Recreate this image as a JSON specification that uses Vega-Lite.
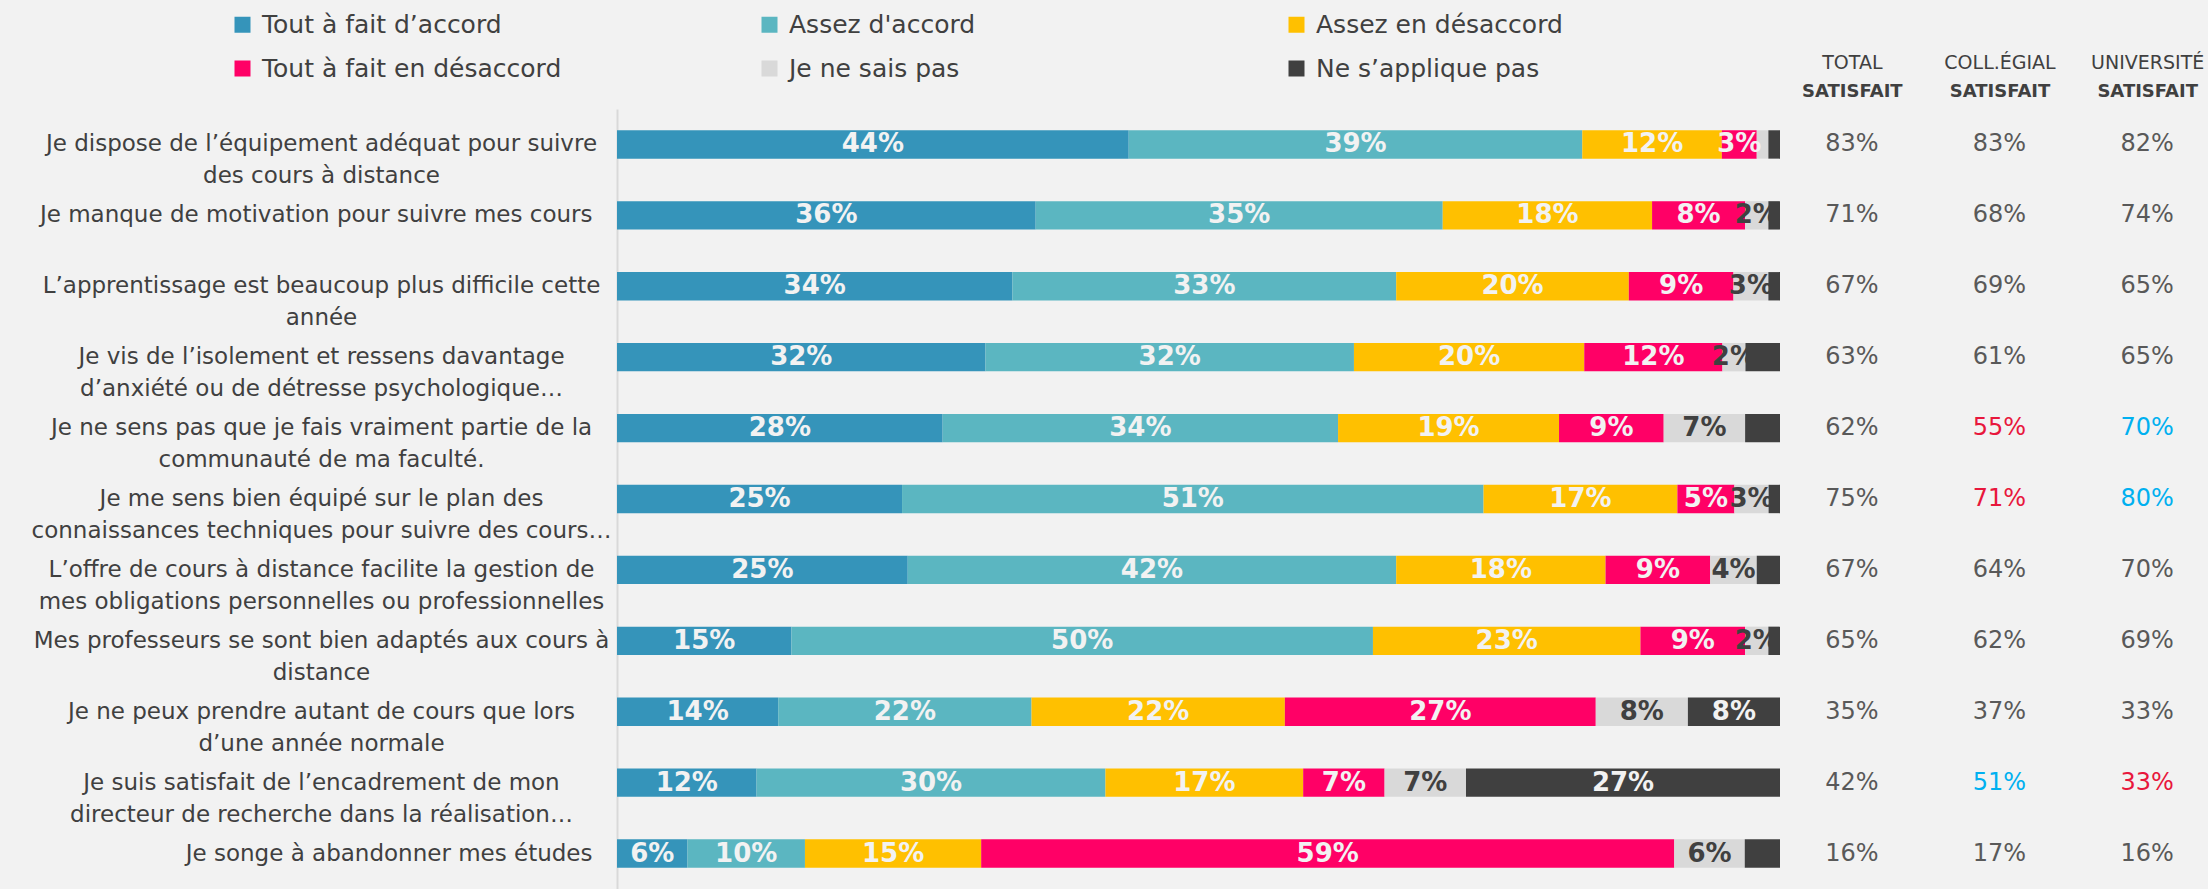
{
  "$schema": "https://vega.github.io/schema/vega-lite/v6.json",
  "background": "#F2F2F2",
  "autosize": "none",
  "width": 1163,
  "height": 780,
  "padding": {"left": 617, "top": 109, "right": 428, "bottom": 0},
  "config": {"view": {"stroke": null}, "font": "DejaVu Sans"},
  "datasets": {
    "bars": [
      {"q": "Je dispose de l’équipement adéquat pour suivre\ndes cours à distance", "cat": "Tout à fait d’accord", "o": 1, "v": 0.44},
      {"q": "Je dispose de l’équipement adéquat pour suivre\ndes cours à distance", "cat": "Assez d'accord", "o": 2, "v": 0.39},
      {"q": "Je dispose de l’équipement adéquat pour suivre\ndes cours à distance", "cat": "Assez en désaccord", "o": 3, "v": 0.12},
      {"q": "Je dispose de l’équipement adéquat pour suivre\ndes cours à distance", "cat": "Tout à fait en désaccord", "o": 4, "v": 0.03},
      {"q": "Je dispose de l’équipement adéquat pour suivre\ndes cours à distance", "cat": "Je ne sais pas", "o": 5, "v": 0.01},
      {"q": "Je dispose de l’équipement adéquat pour suivre\ndes cours à distance", "cat": "Ne s’applique pas", "o": 6, "v": 0.01},
      {"q": "Je manque de motivation pour suivre mes cours", "cat": "Tout à fait d’accord", "o": 1, "v": 0.36},
      {"q": "Je manque de motivation pour suivre mes cours", "cat": "Assez d'accord", "o": 2, "v": 0.35},
      {"q": "Je manque de motivation pour suivre mes cours", "cat": "Assez en désaccord", "o": 3, "v": 0.18},
      {"q": "Je manque de motivation pour suivre mes cours", "cat": "Tout à fait en désaccord", "o": 4, "v": 0.08},
      {"q": "Je manque de motivation pour suivre mes cours", "cat": "Je ne sais pas", "o": 5, "v": 0.02},
      {"q": "Je manque de motivation pour suivre mes cours", "cat": "Ne s’applique pas", "o": 6, "v": 0.01},
      {"q": "L’apprentissage est beaucoup plus difficile cette\nannée", "cat": "Tout à fait d’accord", "o": 1, "v": 0.34},
      {"q": "L’apprentissage est beaucoup plus difficile cette\nannée", "cat": "Assez d'accord", "o": 2, "v": 0.33},
      {"q": "L’apprentissage est beaucoup plus difficile cette\nannée", "cat": "Assez en désaccord", "o": 3, "v": 0.20},
      {"q": "L’apprentissage est beaucoup plus difficile cette\nannée", "cat": "Tout à fait en désaccord", "o": 4, "v": 0.09},
      {"q": "L’apprentissage est beaucoup plus difficile cette\nannée", "cat": "Je ne sais pas", "o": 5, "v": 0.03},
      {"q": "L’apprentissage est beaucoup plus difficile cette\nannée", "cat": "Ne s’applique pas", "o": 6, "v": 0.01},
      {"q": "Je vis de l’isolement et ressens davantage\nd’anxiété ou de détresse psychologique…", "cat": "Tout à fait d’accord", "o": 1, "v": 0.32},
      {"q": "Je vis de l’isolement et ressens davantage\nd’anxiété ou de détresse psychologique…", "cat": "Assez d'accord", "o": 2, "v": 0.32},
      {"q": "Je vis de l’isolement et ressens davantage\nd’anxiété ou de détresse psychologique…", "cat": "Assez en désaccord", "o": 3, "v": 0.20},
      {"q": "Je vis de l’isolement et ressens davantage\nd’anxiété ou de détresse psychologique…", "cat": "Tout à fait en désaccord", "o": 4, "v": 0.12},
      {"q": "Je vis de l’isolement et ressens davantage\nd’anxiété ou de détresse psychologique…", "cat": "Je ne sais pas", "o": 5, "v": 0.02},
      {"q": "Je vis de l’isolement et ressens davantage\nd’anxiété ou de détresse psychologique…", "cat": "Ne s’applique pas", "o": 6, "v": 0.03},
      {"q": "Je ne sens pas que je fais vraiment partie de la\ncommunauté de ma faculté.", "cat": "Tout à fait d’accord", "o": 1, "v": 0.28},
      {"q": "Je ne sens pas que je fais vraiment partie de la\ncommunauté de ma faculté.", "cat": "Assez d'accord", "o": 2, "v": 0.34},
      {"q": "Je ne sens pas que je fais vraiment partie de la\ncommunauté de ma faculté.", "cat": "Assez en désaccord", "o": 3, "v": 0.19},
      {"q": "Je ne sens pas que je fais vraiment partie de la\ncommunauté de ma faculté.", "cat": "Tout à fait en désaccord", "o": 4, "v": 0.09},
      {"q": "Je ne sens pas que je fais vraiment partie de la\ncommunauté de ma faculté.", "cat": "Je ne sais pas", "o": 5, "v": 0.07},
      {"q": "Je ne sens pas que je fais vraiment partie de la\ncommunauté de ma faculté.", "cat": "Ne s’applique pas", "o": 6, "v": 0.03},
      {"q": "Je me sens bien équipé sur le plan des\nconnaissances techniques pour suivre des cours…", "cat": "Tout à fait d’accord", "o": 1, "v": 0.25},
      {"q": "Je me sens bien équipé sur le plan des\nconnaissances techniques pour suivre des cours…", "cat": "Assez d'accord", "o": 2, "v": 0.51},
      {"q": "Je me sens bien équipé sur le plan des\nconnaissances techniques pour suivre des cours…", "cat": "Assez en désaccord", "o": 3, "v": 0.17},
      {"q": "Je me sens bien équipé sur le plan des\nconnaissances techniques pour suivre des cours…", "cat": "Tout à fait en désaccord", "o": 4, "v": 0.05},
      {"q": "Je me sens bien équipé sur le plan des\nconnaissances techniques pour suivre des cours…", "cat": "Je ne sais pas", "o": 5, "v": 0.03},
      {"q": "Je me sens bien équipé sur le plan des\nconnaissances techniques pour suivre des cours…", "cat": "Ne s’applique pas", "o": 6, "v": 0.01},
      {"q": "L’offre de cours à distance facilite la gestion de\nmes obligations personnelles ou professionnelles", "cat": "Tout à fait d’accord", "o": 1, "v": 0.25},
      {"q": "L’offre de cours à distance facilite la gestion de\nmes obligations personnelles ou professionnelles", "cat": "Assez d'accord", "o": 2, "v": 0.42},
      {"q": "L’offre de cours à distance facilite la gestion de\nmes obligations personnelles ou professionnelles", "cat": "Assez en désaccord", "o": 3, "v": 0.18},
      {"q": "L’offre de cours à distance facilite la gestion de\nmes obligations personnelles ou professionnelles", "cat": "Tout à fait en désaccord", "o": 4, "v": 0.09},
      {"q": "L’offre de cours à distance facilite la gestion de\nmes obligations personnelles ou professionnelles", "cat": "Je ne sais pas", "o": 5, "v": 0.04},
      {"q": "L’offre de cours à distance facilite la gestion de\nmes obligations personnelles ou professionnelles", "cat": "Ne s’applique pas", "o": 6, "v": 0.02},
      {"q": "Mes professeurs se sont bien adaptés aux cours à\ndistance", "cat": "Tout à fait d’accord", "o": 1, "v": 0.15},
      {"q": "Mes professeurs se sont bien adaptés aux cours à\ndistance", "cat": "Assez d'accord", "o": 2, "v": 0.50},
      {"q": "Mes professeurs se sont bien adaptés aux cours à\ndistance", "cat": "Assez en désaccord", "o": 3, "v": 0.23},
      {"q": "Mes professeurs se sont bien adaptés aux cours à\ndistance", "cat": "Tout à fait en désaccord", "o": 4, "v": 0.09},
      {"q": "Mes professeurs se sont bien adaptés aux cours à\ndistance", "cat": "Je ne sais pas", "o": 5, "v": 0.02},
      {"q": "Mes professeurs se sont bien adaptés aux cours à\ndistance", "cat": "Ne s’applique pas", "o": 6, "v": 0.01},
      {"q": "Je ne peux prendre autant de cours que lors\nd’une année normale", "cat": "Tout à fait d’accord", "o": 1, "v": 0.14},
      {"q": "Je ne peux prendre autant de cours que lors\nd’une année normale", "cat": "Assez d'accord", "o": 2, "v": 0.22},
      {"q": "Je ne peux prendre autant de cours que lors\nd’une année normale", "cat": "Assez en désaccord", "o": 3, "v": 0.22},
      {"q": "Je ne peux prendre autant de cours que lors\nd’une année normale", "cat": "Tout à fait en désaccord", "o": 4, "v": 0.27},
      {"q": "Je ne peux prendre autant de cours que lors\nd’une année normale", "cat": "Je ne sais pas", "o": 5, "v": 0.08},
      {"q": "Je ne peux prendre autant de cours que lors\nd’une année normale", "cat": "Ne s’applique pas", "o": 6, "v": 0.08},
      {"q": "Je suis satisfait de l’encadrement de mon\ndirecteur de recherche dans la réalisation…", "cat": "Tout à fait d’accord", "o": 1, "v": 0.12},
      {"q": "Je suis satisfait de l’encadrement de mon\ndirecteur de recherche dans la réalisation…", "cat": "Assez d'accord", "o": 2, "v": 0.30},
      {"q": "Je suis satisfait de l’encadrement de mon\ndirecteur de recherche dans la réalisation…", "cat": "Assez en désaccord", "o": 3, "v": 0.17},
      {"q": "Je suis satisfait de l’encadrement de mon\ndirecteur de recherche dans la réalisation…", "cat": "Tout à fait en désaccord", "o": 4, "v": 0.07},
      {"q": "Je suis satisfait de l’encadrement de mon\ndirecteur de recherche dans la réalisation…", "cat": "Je ne sais pas", "o": 5, "v": 0.07},
      {"q": "Je suis satisfait de l’encadrement de mon\ndirecteur de recherche dans la réalisation…", "cat": "Ne s’applique pas", "o": 6, "v": 0.27},
      {"q": "Je songe à abandonner mes études", "cat": "Tout à fait d’accord", "o": 1, "v": 0.06},
      {"q": "Je songe à abandonner mes études", "cat": "Assez d'accord", "o": 2, "v": 0.10},
      {"q": "Je songe à abandonner mes études", "cat": "Assez en désaccord", "o": 3, "v": 0.15},
      {"q": "Je songe à abandonner mes études", "cat": "Tout à fait en désaccord", "o": 4, "v": 0.59},
      {"q": "Je songe à abandonner mes études", "cat": "Je ne sais pas", "o": 5, "v": 0.06},
      {"q": "Je songe à abandonner mes études", "cat": "Ne s’applique pas", "o": 6, "v": 0.03}
    ],
    "sat": [
      {"q": "Je dispose de l’équipement adéquat pour suivre\ndes cours à distance", "col": "TOTAL", "pct": 0.83, "flag": ""},
      {"q": "Je dispose de l’équipement adéquat pour suivre\ndes cours à distance", "col": "COLL.ÉGIAL", "pct": 0.83, "flag": ""},
      {"q": "Je dispose de l’équipement adéquat pour suivre\ndes cours à distance", "col": "UNIVERSITÉ", "pct": 0.82, "flag": ""},
      {"q": "Je manque de motivation pour suivre mes cours", "col": "TOTAL", "pct": 0.71, "flag": ""},
      {"q": "Je manque de motivation pour suivre mes cours", "col": "COLL.ÉGIAL", "pct": 0.68, "flag": ""},
      {"q": "Je manque de motivation pour suivre mes cours", "col": "UNIVERSITÉ", "pct": 0.74, "flag": ""},
      {"q": "L’apprentissage est beaucoup plus difficile cette\nannée", "col": "TOTAL", "pct": 0.67, "flag": ""},
      {"q": "L’apprentissage est beaucoup plus difficile cette\nannée", "col": "COLL.ÉGIAL", "pct": 0.69, "flag": ""},
      {"q": "L’apprentissage est beaucoup plus difficile cette\nannée", "col": "UNIVERSITÉ", "pct": 0.65, "flag": ""},
      {"q": "Je vis de l’isolement et ressens davantage\nd’anxiété ou de détresse psychologique…", "col": "TOTAL", "pct": 0.63, "flag": ""},
      {"q": "Je vis de l’isolement et ressens davantage\nd’anxiété ou de détresse psychologique…", "col": "COLL.ÉGIAL", "pct": 0.61, "flag": ""},
      {"q": "Je vis de l’isolement et ressens davantage\nd’anxiété ou de détresse psychologique…", "col": "UNIVERSITÉ", "pct": 0.65, "flag": ""},
      {"q": "Je ne sens pas que je fais vraiment partie de la\ncommunauté de ma faculté.", "col": "TOTAL", "pct": 0.62, "flag": ""},
      {"q": "Je ne sens pas que je fais vraiment partie de la\ncommunauté de ma faculté.", "col": "COLL.ÉGIAL", "pct": 0.55, "flag": "bas"},
      {"q": "Je ne sens pas que je fais vraiment partie de la\ncommunauté de ma faculté.", "col": "UNIVERSITÉ", "pct": 0.70, "flag": "haut"},
      {"q": "Je me sens bien équipé sur le plan des\nconnaissances techniques pour suivre des cours…", "col": "TOTAL", "pct": 0.75, "flag": ""},
      {"q": "Je me sens bien équipé sur le plan des\nconnaissances techniques pour suivre des cours…", "col": "COLL.ÉGIAL", "pct": 0.71, "flag": "bas"},
      {"q": "Je me sens bien équipé sur le plan des\nconnaissances techniques pour suivre des cours…", "col": "UNIVERSITÉ", "pct": 0.80, "flag": "haut"},
      {"q": "L’offre de cours à distance facilite la gestion de\nmes obligations personnelles ou professionnelles", "col": "TOTAL", "pct": 0.67, "flag": ""},
      {"q": "L’offre de cours à distance facilite la gestion de\nmes obligations personnelles ou professionnelles", "col": "COLL.ÉGIAL", "pct": 0.64, "flag": ""},
      {"q": "L’offre de cours à distance facilite la gestion de\nmes obligations personnelles ou professionnelles", "col": "UNIVERSITÉ", "pct": 0.70, "flag": ""},
      {"q": "Mes professeurs se sont bien adaptés aux cours à\ndistance", "col": "TOTAL", "pct": 0.65, "flag": ""},
      {"q": "Mes professeurs se sont bien adaptés aux cours à\ndistance", "col": "COLL.ÉGIAL", "pct": 0.62, "flag": ""},
      {"q": "Mes professeurs se sont bien adaptés aux cours à\ndistance", "col": "UNIVERSITÉ", "pct": 0.69, "flag": ""},
      {"q": "Je ne peux prendre autant de cours que lors\nd’une année normale", "col": "TOTAL", "pct": 0.35, "flag": ""},
      {"q": "Je ne peux prendre autant de cours que lors\nd’une année normale", "col": "COLL.ÉGIAL", "pct": 0.37, "flag": ""},
      {"q": "Je ne peux prendre autant de cours que lors\nd’une année normale", "col": "UNIVERSITÉ", "pct": 0.33, "flag": ""},
      {"q": "Je suis satisfait de l’encadrement de mon\ndirecteur de recherche dans la réalisation…", "col": "TOTAL", "pct": 0.42, "flag": ""},
      {"q": "Je suis satisfait de l’encadrement de mon\ndirecteur de recherche dans la réalisation…", "col": "COLL.ÉGIAL", "pct": 0.51, "flag": "haut"},
      {"q": "Je suis satisfait de l’encadrement de mon\ndirecteur de recherche dans la réalisation…", "col": "UNIVERSITÉ", "pct": 0.33, "flag": "bas"},
      {"q": "Je songe à abandonner mes études", "col": "TOTAL", "pct": 0.16, "flag": ""},
      {"q": "Je songe à abandonner mes études", "col": "COLL.ÉGIAL", "pct": 0.17, "flag": ""},
      {"q": "Je songe à abandonner mes études", "col": "UNIVERSITÉ", "pct": 0.16, "flag": ""}
    ]
  },
  "layer": [
    {
      "data": {"name": "bars"},
      "layer": [
        {
          "mark": {"type": "bar"},
          "encoding": {
            "y": {
              "field": "q", "type": "nominal", "sort": null,
              "scale": {"paddingInner": 0.6, "paddingOuter": 0.3},
              "axis": {
                "title": null, "ticks": false, "tickSize": 0,
                "domainColor": "#D9D9D9", "domainWidth": 2,
                "labelExpr": "split(datum.value, '\\n')",
                "labelAlign": {"condition": {"test": "indexof(datum.value, '\\n') < 0", "value": "right"}, "value": "center"},
                "labelPadding": {"condition": {"test": "indexof(datum.value, '\\n') < 0", "value": 25}, "value": 296},
                "labelBaseline": "middle",
                "labelLimit": 800, "labelLineHeight": 32,
                "labelFont": "DejaVu Sans", "labelFontSize": 23, "labelColor": "#404040"
              }
            },
            "x": {"field": "v", "type": "quantitative", "stack": "normalize", "axis": null},
            "order": {"field": "o"},
            "color": {
              "field": "cat", "type": "nominal",
              "scale": {
                "domain": ["Tout à fait d’accord", "Assez d'accord", "Assez en désaccord", "Tout à fait en désaccord", "Je ne sais pas", "Ne s’applique pas"],
                "range": ["#3594BA", "#5BB6C1", "#FFC000", "#FF0066", "#D9D9D9", "#404040"]
              },
              "legend": {
                "orient": "none", "legendX": -387, "legendY": -97, "direction": "horizontal",
                "title": null, "columns": 3, "gridAlign": "all",
                "columnPadding": 195, "rowPadding": 18, "padding": 0,
                "symbolType": "square", "symbolSize": 256, "symbolStrokeWidth": 0,
                "labelFont": "DejaVu Sans", "labelFontSize": 25, "labelColor": "#404040",
                "labelLimit": 500, "labelOffset": 7
              }
            }
          }
        },
        {
          "mark": {"type": "text", "font": "DejaVu Sans", "fontSize": 26, "fontWeight": "bold", "baseline": "middle"},
          "encoding": {
            "y": {"field": "q", "type": "nominal", "sort": null},
            "x": {"field": "v", "type": "quantitative", "stack": "normalize", "bandPosition": 0.5},
            "detail": {"field": "cat"},
            "order": {"field": "o"},
            "text": {
              "condition": {"test": "datum.v < 0.02 || (datum.cat === 'Ne s’applique pas' && datum.v < 0.05)", "value": ""},
              "field": "v", "type": "quantitative", "format": ".0%"
            },
            "color": {
              "condition": {"test": "datum.cat === 'Je ne sais pas'", "value": "#404040"},
              "value": "#F2F2F2"
            }
          }
        }
      ]
    },
    {
      "data": {"name": "sat"},
      "mark": {"type": "text", "font": "DejaVu Sans", "fontSize": 24, "baseline": "middle"},
      "encoding": {
        "y": {"field": "q", "type": "nominal", "sort": null},
        "x": {
          "field": "col", "type": "nominal", "sort": null,
          "scale": {"domain": ["TOTAL", "COLL.ÉGIAL", "UNIVERSITÉ"], "range": [1161, 1604], "paddingInner": 0, "paddingOuter": 0},
          "axis": {
            "orient": "top", "title": null, "ticks": false, "tickSize": 0, "domain": false,
            "labelExpr": "'SATISFAIT'", "labelFont": "DejaVu Sans", "labelFontSize": 18,
            "labelFontWeight": "bold", "labelColor": "#404040", "labelBaseline": "middle",
            "labelPadding": 18, "labelAngle": 0
          }
        },
        "text": {"field": "pct", "type": "quantitative", "format": ".0%"},
        "color": {
          "condition": [
            {"test": "datum.flag === 'haut'", "value": "#00B0F0"},
            {"test": "datum.flag === 'bas'", "value": "#E8173C"}
          ],
          "value": "#595959"
        }
      }
    },
    {
      "data": {"name": "sat"},
      "mark": {"type": "text", "text": ""},
      "encoding": {
        "y": {"field": "q", "type": "nominal", "sort": null},
        "x": {
          "field": "col", "type": "nominal", "sort": null,
          "scale": {"domain": ["TOTAL", "COLL.ÉGIAL", "UNIVERSITÉ"], "range": [1161, 1604], "paddingInner": 0, "paddingOuter": 0},
          "axis": {
            "orient": "top", "title": null, "ticks": false, "tickSize": 0, "domain": false,
            "labelFont": "DejaVu Sans", "labelFontSize": 19,
            "labelColor": "#404040", "labelBaseline": "middle",
            "labelPadding": 47, "labelAngle": 0
          }
        }
      }
    }
  ],
  "resolve": {"scale": {"x": "independent"}, "axis": {"x": "independent"}}
}
